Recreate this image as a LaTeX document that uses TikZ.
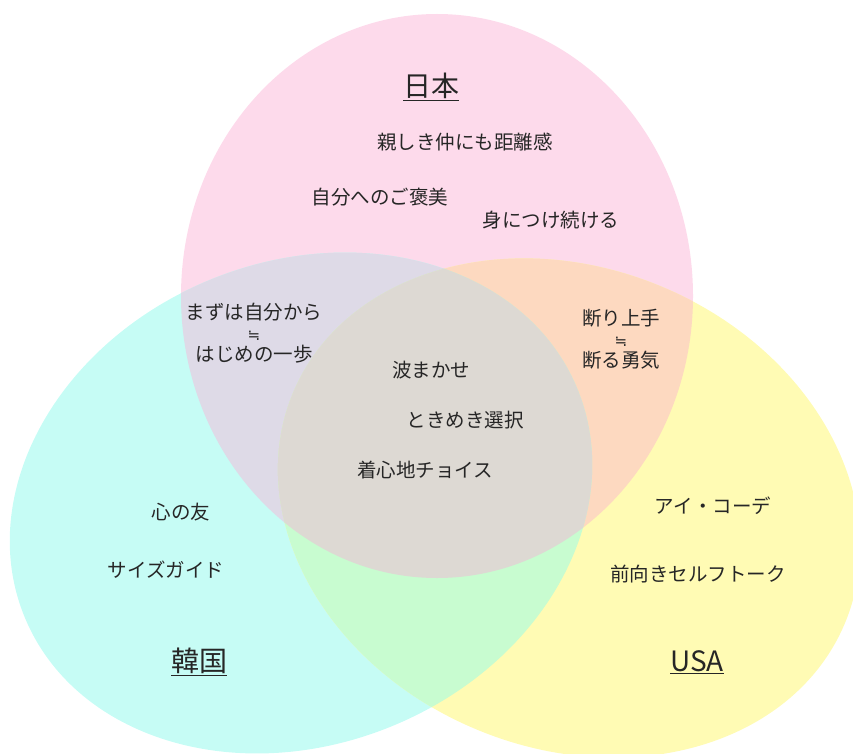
\documentclass[tikz,border=0pt]{standalone}
\usepackage{fontspec}
\setmainfont{Noto Sans CJK JP}
\newfontfamily\symf{DejaVu Sans}
\definecolor{pinkC}{HTML}{FDDAEB}
\definecolor{cyanC}{HTML}{C6FCF5}
\definecolor{yellowC}{HTML}{FFFBB4}
\definecolor{pcC}{HTML}{DEDAE7}
\definecolor{pyC}{HTML}{FDD9C0}
\definecolor{cyC}{HTML}{C8FCD0}
\definecolor{triC}{HTML}{DDD9D3}
\definecolor{txt}{HTML}{262626}
\newcommand\nearlyeq{{\symf\fontsize{15}{21}\selectfont ≒}}
\tikzset{
  lbl/.style={font=\fontsize{19.5}{21}\selectfont, text=txt, inner sep=0pt, align=center},
  head/.style={font=\fontsize{28}{32}\selectfont, text=txt, inner sep=0pt},
  pinkE/.style={},
  cyanE/.style={rotate around={22.6:(301,503)}},
  yellowE/.style={rotate around={-22.6:(569,508)}}
}
\newcommand\pinkP{(437,296) ellipse [x radius=256pt, y radius=282pt]}
\newcommand\cyanP{(301,503) ellipse [x radius=299pt, y radius=241pt]}
\newcommand\yellowP{(569,508) ellipse [x radius=299pt, y radius=240pt]}
\begin{document}
\begin{tikzpicture}[x=1pt,y=-1pt]
\useasboundingbox (0,0) rectangle (853,754);
\clip (0,0) rectangle (853,754);
% base ellipses
\fill[pinkC, pinkE] \pinkP;
\fill[cyanC, cyanE] \cyanP;
\fill[yellowC, yellowE] \yellowP;
% pairwise overlaps
\begin{scope}
  \clip[pinkE] \pinkP;
  \fill[pcC, cyanE] \cyanP;
  \fill[pyC, yellowE] \yellowP;
\end{scope}
\begin{scope}
  \clip[cyanE] \cyanP;
  \fill[cyC, yellowE] \yellowP;
\end{scope}
% triple overlap
\begin{scope}
  \clip[pinkE] \pinkP;
  \clip[cyanE] \cyanP;
  \fill[triC, yellowE] \yellowP;
\end{scope}
% headings
\node[head] (jp) at (431,87) {\underline{日本}};
\node[head] (kr) at (199,662) {\underline{韓国}};
\node[head] (us) at (697,662) {\underline{USA}};
% Japan only
\node[lbl] (j1) at (465,142) {親しき仲にも距離感};
\node[lbl] (j2) at (380,197) {自分へのご褒美};
\node[lbl] (j3) at (551,220) {身につけ続ける};
% Japan & Korea
\node[lbl] (jk) at (254,333) {まずは自分から\\\nearlyeq\\はじめの一歩};
% Japan & USA
\node[lbl] (ju) at (621,339) {断り上手\\\nearlyeq\\断る勇気};
% all three
\node[lbl] (a1) at (431,370) {波まかせ};
\node[lbl] (a2) at (465,420) {ときめき選択};
\node[lbl] (a3) at (425,470) {着心地チョイス};
% Korea only
\node[lbl] (k1) at (181,512) {心の友};
\node[lbl] (k2) at (166,570) {サイズガイド};
% USA only
\node[lbl] (u1) at (713,506) {アイ・コーデ};
\node[lbl] (u2) at (698,574) {前向きセルフトーク};
\end{tikzpicture}
\end{document}
